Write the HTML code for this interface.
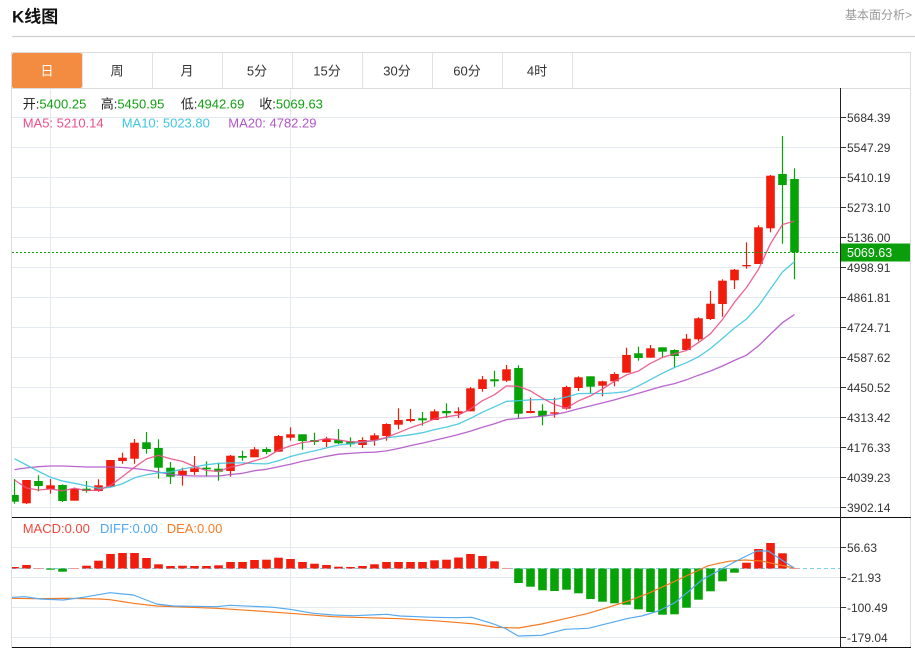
<!DOCTYPE html>
<html><head><meta charset="utf-8"><style>
html,body{margin:0;padding:0;background:#fff;}
body{width:915px;height:648px;overflow:hidden;}
svg{display:block;font-family:"Liberation Sans","Noto Sans CJK SC",sans-serif;}
</style></head><body>
<svg id="s" width="915" height="648" viewBox="0 0 915 648" xmlns="http://www.w3.org/2000/svg">
<defs>
<clipPath id="cm"><rect x="12" y="89" width="828" height="428"/></clipPath>
<clipPath id="cd"><rect x="12" y="518" width="828" height="129"/></clipPath>
</defs>
<!-- header -->
<text x="12" y="22.5" font-size="17" font-weight="bold" fill="#111">K线图</text>
<text x="912" y="19" font-size="12" fill="#999" text-anchor="end">基本面分析&gt;</text>
<line x1="12" y1="36.5" x2="915" y2="36.5" stroke="#cfcfcf" stroke-width="1.3"/>
<!-- tabs -->
<rect x="11.5" y="52.5" width="899" height="36" fill="#fff" stroke="#dcdcdc"/>
<rect x="12" y="53" width="70" height="35" rx="2" fill="#f38c40"/>
<g stroke="#e2e2e2">
<line x1="82.5" y1="53" x2="82.5" y2="88"/><line x1="152.5" y1="53" x2="152.5" y2="88"/>
<line x1="222.5" y1="53" x2="222.5" y2="88"/><line x1="292.5" y1="53" x2="292.5" y2="88"/>
<line x1="362.5" y1="53" x2="362.5" y2="88"/><line x1="432.5" y1="53" x2="432.5" y2="88"/>
<line x1="502.5" y1="53" x2="502.5" y2="88"/><line x1="572.5" y1="53" x2="572.5" y2="88"/>
</g>
<g font-size="13" text-anchor="middle" fill="#333">
<text x="47" y="75.5" fill="#fff">日</text>
<text x="117" y="75.5">周</text>
<text x="187" y="75.5">月</text>
<text x="257" y="75.5">5分</text>
<text x="327" y="75.5">15分</text>
<text x="397" y="75.5">30分</text>
<text x="467" y="75.5">60分</text>
<text x="537" y="75.5">4时</text>
</g>
<!-- panel borders -->
<line x1="11.5" y1="88" x2="11.5" y2="648" stroke="#dcdcdc"/>
<line x1="910.5" y1="52" x2="910.5" y2="648" stroke="#dcdcdc"/>
<!-- grid -->
<g stroke="#e4e9ef" stroke-width="1">
<line x1="12" y1="117.5" x2="840" y2="117.5"/><line x1="12" y1="147.5" x2="840" y2="147.5"/>
<line x1="12" y1="177.5" x2="840" y2="177.5"/><line x1="12" y1="207.5" x2="840" y2="207.5"/>
<line x1="12" y1="237.5" x2="840" y2="237.5"/><line x1="12" y1="267.5" x2="840" y2="267.5"/>
<line x1="12" y1="297.5" x2="840" y2="297.5"/><line x1="12" y1="327.5" x2="840" y2="327.5"/>
<line x1="12" y1="357.5" x2="840" y2="357.5"/><line x1="12" y1="387.5" x2="840" y2="387.5"/>
<line x1="12" y1="417.5" x2="840" y2="417.5"/><line x1="12" y1="447.5" x2="840" y2="447.5"/>
<line x1="12" y1="477.5" x2="840" y2="477.5"/><line x1="12" y1="507.5" x2="840" y2="507.5"/>
<line x1="12" y1="547.5" x2="840" y2="547.5"/><line x1="12" y1="577.5" x2="840" y2="577.5"/>
<line x1="12" y1="607.5" x2="840" y2="607.5"/><line x1="12" y1="637.5" x2="840" y2="637.5"/>
<line x1="50.5" y1="89" x2="50.5" y2="647"/><line x1="290.5" y1="89" x2="290.5" y2="647"/>
</g>
<!-- zero dashed line -->
<line x1="12" y1="568.5" x2="840" y2="568.5" stroke="#7ccff2" stroke-dasharray="4,3"/>
<g id="main" clip-path="url(#cm)"></g>
<g id="macd" clip-path="url(#cd)"></g>
<!-- current price line -->
<line x1="12" y1="252.5" x2="840" y2="252.5" stroke="#0a9f0a" stroke-dasharray="2,2"/>
<!-- axes -->
<line x1="12" y1="517.5" x2="911" y2="517.5" stroke="#111"/>
<line x1="12" y1="647.5" x2="911" y2="647.5" stroke="#111"/>
<line x1="840.5" y1="88" x2="840.5" y2="648" stroke="#222"/>
<g stroke="#333">
<line x1="841" y1="117.5" x2="846" y2="117.5"/><line x1="841" y1="147.5" x2="846" y2="147.5"/>
<line x1="841" y1="177.5" x2="846" y2="177.5"/><line x1="841" y1="207.5" x2="846" y2="207.5"/>
<line x1="841" y1="237.5" x2="846" y2="237.5"/><line x1="841" y1="267.5" x2="846" y2="267.5"/>
<line x1="841" y1="297.5" x2="846" y2="297.5"/><line x1="841" y1="327.5" x2="846" y2="327.5"/>
<line x1="841" y1="357.5" x2="846" y2="357.5"/><line x1="841" y1="387.5" x2="846" y2="387.5"/>
<line x1="841" y1="417.5" x2="846" y2="417.5"/><line x1="841" y1="447.5" x2="846" y2="447.5"/>
<line x1="841" y1="477.5" x2="846" y2="477.5"/><line x1="841" y1="507.5" x2="846" y2="507.5"/>
<line x1="841" y1="547.5" x2="846" y2="547.5"/><line x1="841" y1="577.5" x2="846" y2="577.5"/>
<line x1="841" y1="607.5" x2="846" y2="607.5"/><line x1="841" y1="637.5" x2="846" y2="637.5"/>
</g>
<g font-size="12" fill="#333">
<text x="847" y="122">5684.39</text><text x="847" y="152">5547.29</text>
<text x="847" y="182">5410.19</text><text x="847" y="212">5273.10</text>
<text x="847" y="242">5136.00</text><text x="847" y="272">4998.91</text>
<text x="847" y="302">4861.81</text><text x="847" y="332">4724.71</text>
<text x="847" y="362">4587.62</text><text x="847" y="392">4450.52</text>
<text x="847" y="422">4313.42</text><text x="847" y="452">4176.33</text>
<text x="847" y="482">4039.23</text><text x="847" y="512">3902.14</text>
<text x="847" y="552">56.63</text><text x="847" y="582">-21.93</text>
<text x="847" y="612">-100.49</text><text x="847" y="642">-179.04</text>
</g>
<rect x="841" y="243.5" width="69" height="18" fill="#0a9f0a"/>
<text x="847" y="257" font-size="12.5" fill="#fff">5069.63</text>
<!-- legends -->
<g font-size="13">
<text y="108.5"><tspan x="22.7" fill="#222">开:</tspan><tspan fill="#119f11">5400.25</tspan><tspan x="100.7" fill="#222">高:</tspan><tspan fill="#119f11">5450.95</tspan><tspan x="180.7" fill="#222">低:</tspan><tspan fill="#119f11">4942.69</tspan><tspan x="259.3" fill="#222">收:</tspan><tspan fill="#119f11">5069.63</tspan></text>
<text y="127.5"><tspan x="22.7" fill="#ea4f88">MA5: 5210.14</tspan><tspan x="121.7" fill="#3ec6e0">MA10: 5023.80</tspan><tspan x="228.3" fill="#b254c9">MA20: 4782.29</tspan></text>
<text y="533"><tspan x="22.7" fill="#f0473c">MACD:0.00</tspan><tspan x="100" fill="#4ea8f0">DIFF:0.00</tspan><tspan x="166.7" fill="#f57b25">DEA:0.00</tspan></text>
</g>
</svg>
<script>
(function(){
var NS='http://www.w3.org/2000/svg';
function el(p,n,a){var e=document.createElementNS(NS,n);for(var k in a)e.setAttribute(k,a[k]);p.appendChild(e);return e;}
// [red?1:0, bodyTop, bodyBottom, high, low]
var C=[[0,495,501.7,479,503.7],[1,480,503.3,480,504],[0,481,486,475.3,491.3],[1,485.3,489,479,493.7],[0,485,501,484.3,502],
[1,489,500.7,487.7,500.7],[0,488.7,491,481,492.7],[1,485.3,491,479.3,491.7],[1,460,486.7,460,486.7],[1,457.7,461,452.7,463.7],
[1,442.7,458.7,439,463.7],[0,442.3,449,432,453.7],[0,448,467.7,439.3,478.7],[0,467.7,476.7,462,484],[1,470.7,475.3,467.7,485.7],
[1,468.3,472,456,475],[0,467.7,469.3,461.3,476.7],[0,468.7,471.7,462.7,480.7],[1,455.7,471,455,476.7],[0,456,457.7,450.7,460.7],
[1,449.3,457.3,447,457.3],[0,449,452,447.3,454.3],[1,436,451.7,435,451.7],[1,434.3,437.7,427.3,440.7],[0,434.3,441,434.3,449.7],
[0,440,442,432.7,445],[1,439,442,436.7,447],[0,440,443.3,429,444],[0,441.3,444.3,437.3,446.7],[1,440,445,437.3,448],
[1,435.3,440,433.3,445.7],[1,424,436,423.3,440.7],[1,420,424.7,408.3,429.3],[1,419,421,409,422.3],[0,418.3,420.3,412,425.7],
[1,411.3,420,409.3,420],[0,411,413.3,403.3,418],[1,411.3,413.3,407.3,418],[1,388.3,411.3,387,411.3],[1,379.3,389,376,391.7],
[0,379.3,381.3,370.7,386.7],[1,369.3,380.7,365,382],[0,368,413.7,365.3,418.7],[1,411,413,397.7,413.3],[0,410.7,416.3,404.3,425.3],
[1,412.3,413.7,397.7,417.7],[1,387,408.7,385.7,409.7],[1,377.3,388,376.3,391],[0,376.3,386.7,376.3,393],[1,381.3,385.7,380.7,396.3],
[1,374,381.3,372.3,386.3],[1,355,372.7,347.7,372.7],[0,353.3,358,346.7,360.7],[1,348.3,357.7,345,357.7],[0,347.3,351.7,347.3,357.3],
[0,350,356,349.3,367.7],[1,338.7,350,334,350],[1,318.3,339.3,317.3,341.3],[1,303.7,319,291,320],[1,280.7,304,279.3,316.7],
[1,269.7,280.3,269,289],[1,265,266.3,242.3,268.7],[1,227.3,264,225.3,264],[1,175.7,228.3,175,232.3],[0,174,185,136,243.7],
[0,179,252.3,168.3,279.3]];
var RED='#f01c0c',GRN='#06a306';
var X=function(k){return 14.5+12*k;};
var closes=C.map(function(c){return c[0]?c[1]:c[2];});
function ma(n,early){var r=[];for(var k=0;k<C.length;k++){if(k>=n-1){var s=0;for(var j=k-n+1;j<=k;j++)s+=closes[j];r.push(s/n);}else r.push(early[k]);}return r;}
var m5=ma(5,[480,488,490,489]);
var m10=ma(10,[458.7,465,471.3,477.3,481,483.3,485.7,488.3,487.3]);
var m20=ma(20,[469.6,467.9,466.7,466,466,466.5,467,467,467,467.5,468.5,470,472,474.5,475.5,476,476,476,474.5]);
var g=document.getElementById('main');
C.forEach(function(c,k){
  var x=X(k),col=c[0]?RED:GRN;
  el(g,'rect',{x:x-0.6,y:c[3],width:1.2,height:Math.max(0.5,c[4]-c[3]),fill:col});
  el(g,'rect',{x:x-4.3,y:c[1],width:8.6,height:Math.max(1,c[2]-c[1]),fill:col});
});
function poly(p,arr,col,w){var pts=arr.map(function(v,k){return X(k).toFixed(1)+','+v.toFixed(1);}).join(' ');
  el(p,'polyline',{points:pts,fill:'none',stroke:col,'stroke-width':w,'stroke-linejoin':'round','stroke-opacity':0.9});}
poly(g,m20,'#b254c9',1.3);
poly(g,m10,'#3ec6e0',1.3);
poly(g,m5,'#ea5088',1.3);
// MACD
var M=[567,565,568,569.7,571.7,568,565.7,560.7,554,553,553,558,564.3,566,565.7,566,566,565.3,562,562,560,559.7,557.7,559,562,563.7,565,566.7,567,566,564.3,562,562,562,562,560.3,559.7,557.5,554,556,561.3,568,583,586.7,590.3,591,589.7,593.3,599,601.7,603.3,604.7,609.3,612,614.7,614.3,607.7,599.7,591.3,581.3,572.7,562.7,549,543,553.3,568];
var gm=document.getElementById('macd'),Z=568.5;
M.forEach(function(v,k){
  var x=X(k);
  if(Math.abs(v-Z)<1.2){el(gm,'rect',{x:x-4.3,y:Z-0.5,width:8.6,height:1,fill:v<Z?'#f59a90':'#7cc87c'});return;}
  var col=v<Z?RED:GRN;
  el(gm,'rect',{x:x-4.3,y:Math.min(v,Z),width:8.6,height:Math.abs(v-Z),fill:col});
});
var DIFF=[[12,597.3],[25,596.7],[40,599],[63.3,600],[83.3,597.3],[110,592.7],[133.3,595],[156.7,604],[173.3,606],[216.7,606.7],[230,605.3],[273.3,607.3],[290,609.3],[313.3,613.3],[333.3,615],[353.3,615.7],[386.7,614.3],[400,616],[433.3,617.3],[455,617.7],[471.7,617.3],[491.7,623.3],[505,628.3],[518.3,636],[541.7,635.3],[565,629.3],[588.3,628.3],[608.3,623.3],[628.3,618.3],[641.7,616],[658.3,611],[675,602.7],[688.3,591.7],[701.7,580],[721.7,569],[738.3,560],[756.7,551],[768.3,551],[781.7,560],[794.3,568]];
var DEA=[[12,598.3],[33.3,598.7],[66.7,598.3],[100,599],[110,599.7],[133.3,603.3],[156.7,606],[216.7,608.3],[253.3,610.7],[290,613.3],[333.3,616.7],[366.7,617.7],[400,618.7],[433.3,620.7],[455,622.3],[475,624],[495,627.3],[518.3,628],[541.7,624],[565,618.7],[588.3,613.3],[608.3,607.3],[628.3,601],[648.3,593.3],[668.3,584.3],[688.3,575],[708.3,565.7],[728.3,561.3],[745,560],[761.7,561],[775,564],[794.3,568]];
function pl(p,a,col){el(p,'polyline',{points:a.map(function(q){return q[0]+','+q[1];}).join(' '),fill:'none',stroke:col,'stroke-width':1.2,'stroke-linejoin':'round'});}
pl(gm,DEA,'#f57a1f');
pl(gm,DIFF,'#55aaf0');
})();
</script>
</body></html>
